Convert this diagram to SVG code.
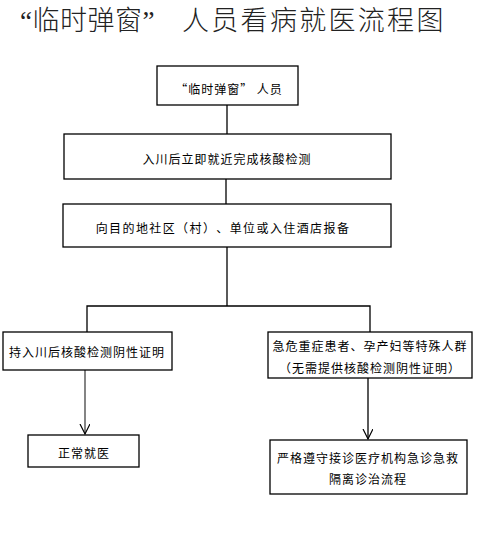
<svg xmlns="http://www.w3.org/2000/svg" width="477" height="541" viewBox="0 0 477 541">
<style>
  .box { fill: #ffffff; stroke: #000000; stroke-width: 1.3; }
  .t { font-family: "Noto Sans CJK SC", "Noto Sans", sans-serif; font-size: 12px; fill: #000; text-anchor: middle; dominant-baseline: central; letter-spacing: 1px; text-spacing-trim: space-all; }
  .title { font-family: "Liberation Serif", "Noto Sans CJK SC", sans-serif; font-size: 27px; font-weight: 300; fill: #222; letter-spacing: 0.5px; }
  .ln { fill: none; stroke: #000; stroke-width: 1.3; }
</style>
<defs>
  <marker id="arr" markerWidth="12" markerHeight="12" refX="10" refY="5" orient="auto" markerUnits="userSpaceOnUse">
    <path d="M0,0 L10,5 L0,10" fill="none" stroke="#000" stroke-width="1.2"/>
  </marker>
</defs>
<rect width="477" height="541" fill="#ffffff"/>
<text class="title" x="20" y="30">“临时弹窗”<tspan x="182" style="letter-spacing:2.3px">人员看病就医流程图</tspan></text>

<g id="connectors">
  <line class="ln" x1="227" y1="105" x2="227" y2="134"/>
  <line class="ln" x1="226" y1="179" x2="226" y2="204"/>
  <polyline class="ln" points="227,247 227,306"/>
  <polyline class="ln" points="87,332 87,306 370,306 370,332"/>
  <line x1="85" y1="370" x2="85" y2="434" stroke="#666" stroke-width="1.6" marker-end="url(#arr)"/>
  <line class="ln" x1="368" y1="378" x2="368" y2="439" marker-end="url(#arr)"/>
</g>

<g id="n1">
  <rect class="box" x="157" y="66" width="141" height="39"/>
  <text class="t" x="229" y="88">“临时弹窗” 人员</text>
</g>
<g id="n2">
  <rect class="box" x="64" y="134" width="327" height="45"/>
  <text class="t" x="227" y="158">入川后立即就近完成核酸检测</text>
</g>
<g id="n3">
  <rect class="box" x="63" y="204" width="328" height="43"/>
  <text class="t" x="223" y="227" style="letter-spacing:1.4px">向目的地社区（村）、单位或入住酒店报备</text>
</g>
<g id="n4">
  <rect class="box" x="3" y="332" width="169" height="38"/>
  <text class="t" x="87" y="351">持入川后核酸检测阴性证明</text>
</g>
<g id="n5">
  <rect class="box" x="268" y="332" width="204" height="46"/>
  <text class="t" x="370" y="345">急危重症患者、孕产妇等特殊人群</text>
  <text class="t" x="370" y="367">（无需提供核酸检测阴性证明）</text>
</g>
<g id="n6">
  <rect class="box" x="28" y="435" width="111" height="32"/>
  <text class="t" x="84" y="452">正常就医</text>
</g>
<g id="n7">
  <rect class="box" x="270" y="440" width="197" height="54"/>
  <text class="t" x="368" y="457">严格遵守接诊医疗机构急诊急救</text>
  <text class="t" x="368" y="478">隔离诊治流程</text>
</g>
</svg>
